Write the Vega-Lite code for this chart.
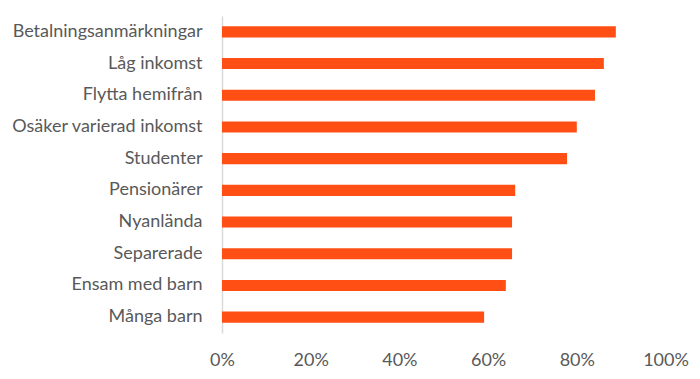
{
  "$schema": "https://vega.github.io/schema/vega-lite/v6.json",
  "autosize": "none",
  "width": 443.5,
  "height": 317,
  "padding": {"left": 222, "top": 16, "right": 34.5, "bottom": 46},
  "background": "white",
  "config": {"view": {"stroke": null}, "font": "Lato"},
  "data": {"values": [
    {"kategori": "Betalningsanmärkningar", "andel": 0.888},
    {"kategori": "Låg inkomst\u00a0", "andel": 0.861},
    {"kategori": "Flytta hemifrån", "andel": 0.841},
    {"kategori": "Osäker varierad inkomst\u00a0", "andel": 0.80},
    {"kategori": "Studenter", "andel": 0.778},
    {"kategori": "Pensionärer", "andel": 0.661},
    {"kategori": "Nyanlända", "andel": 0.654},
    {"kategori": "Separerade", "andel": 0.654},
    {"kategori": "Ensam med barn\u00a0", "andel": 0.640},
    {"kategori": "Många barn\u00a0", "andel": 0.591}
  ]},
  "mark": {"type": "bar", "color": "#FF4F14"},
  "encoding": {
    "y": {
      "field": "kategori", "type": "nominal", "sort": null,
      "scale": {"paddingInner": 0.65, "paddingOuter": 0.325},
      "axis": {"title": null, "ticks": false, "domainColor": "#d9d9d9", "domainWidth": 1.5,
        "labelFontSize": 18, "labelColor": "#595959", "labelPadding": 20, "labelLimit": 300}
    },
    "x": {
      "field": "andel", "type": "quantitative",
      "scale": {"domain": [0, 1], "nice": false},
      "axis": {"title": null, "format": ".0%", "values": [0, 0.2, 0.4, 0.6, 0.8, 1], "grid": false,
        "domain": false, "ticks": false, "labelFontSize": 18, "labelColor": "#595959", "labelPadding": 18,
        "labelFlush": false}
    }
  }
}
